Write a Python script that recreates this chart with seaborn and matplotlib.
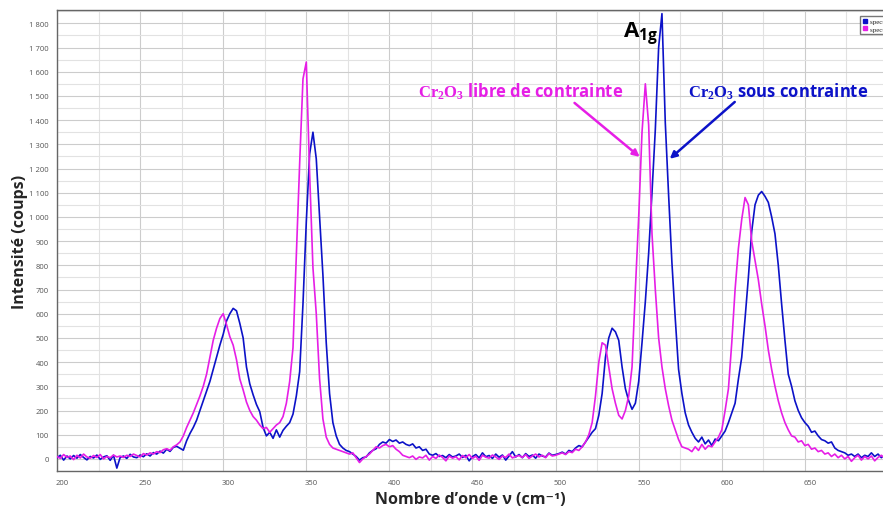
import numpy as np
import pandas as pd
import matplotlib
matplotlib.use("Agg")
import matplotlib.pyplot as plt
import matplotlib.ticker as mticker
import matplotlib.transforms as mtransforms
from matplotlib.lines import Line2D
import seaborn as sns

# Raman shift grid (cm-1), one reading every 2 cm-1
wavenumber = np.arange(200, 700, 2)

# Cr2O3 sous contrainte (blue)
sous_contrainte = [
    5, 15, -5, 12, 0, 14, 3, 18, 6, -4,
    10, 4, 16, -2, 8, 13, -6, 15, -38, 6,
    12, 2, 19, 8, 5, 16, 9, 21, 12, 26,
    20, 32, 24, 40, 31, 48, 52, 44, 36, 75,
    105, 130, 160, 200, 240, 280, 320, 370, 420, 470,
    515, 570, 600, 622, 612, 560, 500, 380, 310, 265,
    225, 195, 130, 95, 110, 85, 120, 90, 118, 135,
    150, 185, 260, 360, 640, 980, 1260, 1350, 1240, 1000,
    760, 480, 270, 150, 95, 60, 45, 35, 30, 20,
    10, -5, 5, 8, 25, 35, 42, 60, 70, 65,
    80, 72, 78, 65, 70, 60, 55, 62, 45, 50,
    35, 40, 20, 15, 22, 10, 14, 5, 18, 8,
    12, 20, 6, 15, -8, 10, 18, 4, 25, 9,
    14, 2, 20, 7, 16, -5, 12, 30, 8, 18,
    5, 22, 10, 16, 3, 20, 12, 8, 24, 15,
    18, 22, 28, 20, 35, 30, 45, 55, 50, 70,
    90, 110, 125, 180, 270, 420, 500, 540, 525, 490,
    380, 290, 240, 205, 230, 320, 480, 650, 850, 1100,
    1360, 1700, 1840, 1390, 1090, 810, 580, 370, 270, 190,
    140, 110, 85, 70, 90, 62, 78, 55, 82, 75,
    95, 115, 150, 190, 230, 330, 420, 580, 750, 940,
    1050, 1090, 1105, 1085, 1060, 1000, 930, 800, 640, 490,
    350, 300, 240, 200, 170, 150, 135, 110, 115, 95,
    80, 75, 65, 70, 45, 35, 30, 25, 15, 20,
    10, 20, 5, 15, 10, 25, 10, 20, 5, 15,
]

# Cr2O3 libre de contrainte (magenta)
libre_contrainte = [
    10, 2, 18, 6, 12, -3, 15, 4, 20, 8,
    3, 14, 6, 18, 0, 10, 5, 16, 8, 12,
    6, 15, 10, 20, 14, 8, 22, 16, 25, 20,
    30, 26, 38, 42, 36, 50, 58, 70, 95, 130,
    160, 190, 225, 260, 300, 350, 420, 490, 540, 580,
    600, 555, 505, 470, 410, 330, 285, 235, 200, 175,
    160, 140, 125, 130, 110, 125, 140, 150, 175, 230,
    320, 460, 840, 1220, 1570, 1640, 1180, 790, 600, 330,
    165, 90, 60, 45, 40, 35, 30, 25, 20, 25,
    5, -15, 0, 10, 20, 35, 50, 45, 55, 60,
    50, 55, 40, 30, 15, 10, 5, 12, -2, 8,
    4, 15, -5, 10, 2, 16, 6, -8, 12, 3,
    9, -4, 14, 5, 18, 2, 11, -6, 15, 7,
    3, 16, 8, -2, 12, 6, 20, 4, 10, 14,
    6, 18, 2, 12, 20, 8, 15, 5, 22, 12,
    15, 20, 25, 18, 30, 26, 40, 35, 50, 70,
    100, 150, 260, 400, 480, 470, 380, 290, 230, 180,
    165, 200, 260, 380, 700, 1000, 1350, 1550, 1380, 930,
    700, 500, 380, 290, 220, 160, 120, 80, 50, 45,
    40, 30, 50, 35, 60, 40, 55, 50, 70, 90,
    120, 200, 290, 480, 700, 870, 990, 1080, 1050, 900,
    820, 740, 640, 550, 450, 370, 300, 240, 190, 150,
    120, 95, 90, 70, 75, 55, 60, 40, 45, 30,
    35, 20, 25, 10, 20, 5, 15, 0, 10, -10,
    5, 15, -5, 10, 0, 12, -8, 6, 15, 2,
]

legend_labels = ["spectre 1", "spectre 2"]

BLUE = "#0c12c8"
MAGENTA = "#e61ee6"

sns.set_style("white")
plt.rcParams["font.family"] = ["Open Sans", "DejaVu Sans"]
plt.rcParams["mathtext.fontset"] = "custom"
plt.rcParams["mathtext.rm"] = "Liberation Serif:bold"
plt.rcParams["mathtext.bf"] = "Open Sans:bold"

df = pd.DataFrame({
    "wavenumber": np.concatenate([wavenumber, wavenumber]),
    "intensite": sous_contrainte + libre_contrainte,
    "serie": ["sous"] * len(wavenumber) + ["libre"] * len(wavenumber),
})

fig = plt.figure(figsize=(8.83, 5.10), dpi=100)
ax = fig.add_axes([57 / 883, 1 - 472 / 510, 826 / 883, 461 / 510])

sns.lineplot(data=df, x="wavenumber", y="intensite", hue="serie",
             palette={"sous": BLUE, "libre": MAGENTA}, hue_order=["sous", "libre"],
             estimator=None, linewidth=1.2, legend=False, ax=ax, zorder=3)

ax.set_xlim(200, 697)
ax.set_ylim(-50, 1855)

# grid + ticks
ax.xaxis.set_major_locator(mticker.MultipleLocator(50))
ax.xaxis.set_minor_locator(mticker.MultipleLocator(25))
ax.yaxis.set_major_locator(mticker.MultipleLocator(100))
ax.yaxis.set_minor_locator(mticker.MultipleLocator(50))
ax.yaxis.set_major_formatter(mticker.FuncFormatter(lambda v, p: f"{int(v):,}".replace(",", " ")))
ax.grid(which="major", color="#cccccc", linewidth=0.8)
ax.grid(which="minor", color="#e2e2e2", linewidth=0.8)
ax.set_axisbelow(True)

ax.tick_params(axis="both", which="major", direction="out", length=4, width=0.8,
               color="#666666", labelsize=5.5, labelcolor="#555555", pad=2)
ax.tick_params(axis="both", which="minor", direction="out", length=3, width=0.8,
               color="#666666")
offset = mtransforms.ScaledTranslation(5 / 100, 0, fig.dpi_scale_trans)
for lab in ax.get_xticklabels():
    lab.set_transform(lab.get_transform() + offset)

for side in ["left", "bottom", "top"]:
    ax.spines[side].set_color("#666666")
    ax.spines[side].set_linewidth(1.0)
ax.spines["right"].set_visible(False)

ax.set_xlabel("Nombre d\u2019onde \u03bd (cm\u207b\u00b9)", fontsize=11.5,
              fontweight="bold", labelpad=3)
ax.set_ylabel("Intensit\u00e9 (coups)", fontsize=11.5, fontweight="bold", labelpad=1)

# annotations
ax.text(551, 1760, r"$\mathbf{A_{1g}}$", fontsize=16, color="black",
        ha="center", va="center")
ax.text(479, 1520, r"$\mathrm{Cr_2O_3}$ libre de contrainte", fontsize=12,
        fontweight="bold", color=MAGENTA, ha="center", va="center")
ax.text(634, 1520, r"$\mathrm{Cr_2O_3}$ sous contrainte", fontsize=12,
        fontweight="bold", color=BLUE, ha="center", va="center")
ax.annotate("", xy=(550.6, 1248), xytext=(511.4, 1471),
            arrowprops=dict(arrowstyle="-|>", color=MAGENTA, lw=1.8,
                            mutation_scale=10, shrinkA=0, shrinkB=0))
ax.annotate("", xy=(568.7, 1240), xytext=(607.8, 1475),
            arrowprops=dict(arrowstyle="-|>", color=BLUE, lw=1.8,
                            mutation_scale=10, shrinkA=0, shrinkB=0))

handles = [Line2D([], [], ls="", marker="s", ms=3, color=BLUE),
           Line2D([], [], ls="", marker="s", ms=3, color=MAGENTA)]
fig.legend(handles, legend_labels, loc="upper left",
           bbox_to_anchor=(857 / 883, 1 - 14 / 510),
           prop={"family": "Liberation Serif", "size": 5},
           frameon=True, fancybox=False, edgecolor="#555555",
           handlelength=0.6, handletextpad=0.5, borderpad=0.3, labelspacing=0.2)

fig.savefig("out.png", dpi=100)
